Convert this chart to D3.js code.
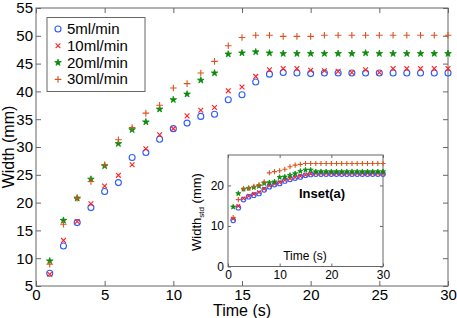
<!DOCTYPE html>
<html>
<head>
<meta charset="utf-8">
<script src="https://cdn.jsdelivr.net/npm/d3@7"></script>
<style>
  body { margin: 0; background: #fff; }
  svg { font-family: 'Liberation Sans', Arial, sans-serif; }
</style>
</head>
<body>
<div id="chart"></div>
<script>
// time in seconds
const times = [1, 2, 3, 4, 5, 6, 7, 8, 9, 10, 11, 12, 13, 14, 15, 16, 17, 18, 19, 20, 21, 22, 23, 24, 25, 26, 27, 28, 29, 30]

// main chart, width (mm)
const width5 = [7.3, 12.2, 16.4, 19.1, 22.0, 23.6, 28.1, 29.0, 31.4, 33.3, 34.3, 35.5, 35.9, 38.5, 39.4, 41.7, 43.1, 43.4, 43.3, 43.2, 43.3, 43.3, 43.3, 43.3, 43.3, 43.3, 43.3, 43.3, 43.3, 43.3]
const width10 = [7.1, 13.2, 16.6, 19.8, 23.0, 24.9, 26.8, 29.7, 32.2, 33.3, 35.6, 36.6, 37.1, 40.1, 40.8, 42.7, 43.9, 44.1, 44.1, 43.8, 43.7, 43.6, 43.4, 43.9, 43.4, 44.1, 44.1, 44.1, 44.1, 44.1]
const width20 = [9.5, 16.8, 20.8, 24.2, 26.6, 30.6, 33.1, 34.5, 36.8, 38.5, 39.5, 42.0, 43.3, 46.7, 46.9, 47.1, 46.9, 46.8, 46.8, 46.8, 46.8, 46.8, 46.8, 46.9, 46.8, 46.8, 46.8, 46.8, 46.8, 46.8]
const width30 = [8.9, 16.1, 20.8, 23.8, 26.8, 31.3, 33.5, 36.1, 37.5, 40.6, 41.4, 43.3, 45.4, 48.2, 49.7, 50.1, 50.1, 49.9, 49.9, 49.9, 50.1, 50.1, 50.1, 50.1, 50.1, 50.1, 50.1, 50.1, 50.1, 50.1]

// inset(a), standardised width (mm)
const std5 = [11.4, 14.5, 16.5, 17.2, 17.6, 18.0, 18.9, 19.7, 20.2, 20.5, 21.1, 21.5, 21.8, 22.1, 22.5, 22.7, 22.8, 22.8, 22.8, 22.8, 22.8, 22.8, 22.8, 22.8, 22.8, 22.8, 22.8, 22.8, 22.8, 22.8]
const std10 = [11.8, 14.9, 16.8, 17.4, 17.9, 18.3, 19.2, 20.0, 20.4, 20.8, 21.3, 21.7, 22.0, 22.3, 22.6, 22.9, 23.0, 23.0, 23.0, 23.0, 23.0, 23.0, 23.0, 23.0, 23.0, 23.0, 23.0, 23.0, 23.0, 23.0]
const std20 = [14.7, 18.0, 19.1, 19.3, 19.5, 19.8, 20.5, 20.7, 20.9, 22.0, 22.1, 22.5, 22.9, 23.5, 23.8, 23.8, 23.4, 23.4, 23.4, 23.4, 23.4, 23.4, 23.4, 23.4, 23.4, 23.4, 23.4, 23.4, 23.4, 23.4]
const std30 = [12.1, 16.5, 19.1, 19.3, 19.8, 20.2, 20.9, 23.1, 23.4, 23.6, 24.0, 24.6, 25.0, 25.2, 25.4, 25.4, 25.4, 25.4, 25.4, 25.4, 25.4, 25.4, 25.4, 25.4, 25.4, 25.4, 25.4, 25.4, 25.4, 25.4]

const seriesNames = ['5ml/min', '10ml/min', '20ml/min', '30ml/min']
const xTicks = [0, 5, 10, 15, 20, 25, 30]
const yTicks = [5, 10, 15, 20, 25, 30, 35, 40, 45, 50, 55]
const insetXTicks = [0, 10, 20, 30]
const insetYTicks = [0, 10, 20]

const markers = ['circle', 'cross', 'star', 'plus']
const colors = ['#2a5cff', '#ff1f1f', '#0a8a0a', '#d9541e']

const svg = d3
  .select('#chart')
  .append('svg')
  .attr('width', 457)
  .attr('height', 318)

// draw one marker into a group
function drawMarker(g, type, color, s) {
  if (type === 'circle') {
    g.append('circle').attr('r', s).attr('fill', 'none').attr('stroke', color).attr('stroke-width', 1.1)
  } else if (type === 'cross') {
    const h = s * 0.8
    g.append('path').attr('d', `M${-h},${-h}L${h},${h}M${-h},${h}L${h},${-h}`).attr('stroke', color).attr('stroke-width', 1.1)
  } else if (type === 'plus') {
    const h = s * 1.1
    g.append('path').attr('d', `M${-h},0L${h},0M0,${-h}L0,${h}`).attr('stroke', color).attr('stroke-width', 1.1)
  } else {
    g.append('path').attr('d', d3.symbol(d3.symbolStar).size(s * s * 1.5)).attr('fill', color)
      .attr('stroke', color).attr('stroke-width', 0.8)
  }
}

function drawPanel(opts) {
  const { left, top, right, bottom, xDomain, yDomain, xt, yt, tick, fontSize, pad, series, ms } = opts
  const x = d3.scaleLinear().domain(xDomain).range([left, right])
  const y = d3.scaleLinear().domain(yDomain).range([bottom, top])
  const g = svg.append('g')

  g.append('rect')
    .attr('x', left).attr('y', top)
    .attr('width', right - left).attr('height', bottom - top)
    .attr('fill', '#fff').attr('stroke', '#666').attr('stroke-width', 1)

  const axes = [
    { ax: d3.axisBottom(x).tickValues(xt).tickSize(-tick), pos: `translate(0,${bottom})` },
    { ax: d3.axisTop(x).tickValues(xt).tickSize(-tick).tickFormat(''), pos: `translate(0,${top})` },
    { ax: d3.axisLeft(y).tickValues(yt).tickSize(-tick), pos: `translate(${left},0)` },
    { ax: d3.axisRight(y).tickValues(yt).tickSize(-tick).tickFormat(''), pos: `translate(${right},0)` }
  ]
  axes.forEach(a => {
    const ag = g.append('g').attr('transform', a.pos).call(a.ax.tickSizeOuter(0).tickPadding(pad))
    ag.select('.domain').remove()
    ag.selectAll('line').attr('stroke', '#666')
    ag.selectAll('text').attr('font-size', fontSize).attr('fill', '#000').attr('font-family', 'Liberation Sans, Arial, sans-serif')
  })

  series.forEach((vals, i) => {
    g.selectAll(null)
      .data(vals)
      .enter()
      .append('g')
      .attr('transform', (d, j) => `translate(${x(times[j])},${y(d)})`)
      .each(function() {
        drawMarker(d3.select(this), markers[i], colors[i], ms)
      })
  })
  return { g, x, y }
}

// main panel
drawPanel({
  left: 36, top: 8, right: 448, bottom: 286,
  xDomain: [0, 30], yDomain: [5, 55],
  xt: xTicks, yt: yTicks, tick: 5, fontSize: 15, pad: 3,
  series: [width5, width10, width20, width30], ms: 3
})

svg.append('text')
  .text('Time (s)')
  .attr('x', 242).attr('y', 316)
  .attr('text-anchor', 'middle')
  .attr('font-size', 16)

svg.append('text')
  .text('Width (mm)')
  .attr('transform', 'translate(14,147) rotate(-90)')
  .attr('text-anchor', 'middle')
  .attr('font-size', 16)

// legend
const legend = svg.append('g')
legend.append('rect')
  .attr('x', 47).attr('y', 17.5).attr('width', 98).attr('height', 74)
  .attr('fill', '#fff').attr('stroke', '#666')
seriesNames.forEach((name, i) => {
  const ly = 29 + i * 16.8
  const mg = legend.append('g').attr('transform', `translate(58,${ly})`)
  drawMarker(mg, markers[i], colors[i], 3)
  legend.append('text')
    .text(name)
    .attr('x', 67).attr('y', ly + 5)
    .attr('font-size', 15)
})

// inset (a)
drawPanel({
  left: 228, top: 155, right: 383, bottom: 266.5,
  xDomain: [0, 30], yDomain: [0, 27.5],
  xt: insetXTicks, yt: insetYTicks, tick: 3, fontSize: 12, pad: 4,
  series: [std5, std10, std20, std30], ms: 2.3
})

svg.append('text')
  .text('Time (s)')
  .attr('x', 305).attr('y', 260)
  .attr('text-anchor', 'middle')
  .attr('font-size', 12)

svg.append('text')
  .text('Inset(a)')
  .attr('x', 322).attr('y', 198)
  .attr('text-anchor', 'middle')
  .attr('font-size', 13)
  .attr('font-weight', 'bold')

const yl = svg.append('text')
  .attr('transform', 'translate(201,212) rotate(-90)')
  .attr('text-anchor', 'middle')
  .attr('font-size', 13)
yl.append('tspan').text('Width')
yl.append('tspan').text('std').attr('font-size', 8).attr('dy', 3)
yl.append('tspan').text(' (mm)').attr('dy', -3)
</script>
</body>
</html>
